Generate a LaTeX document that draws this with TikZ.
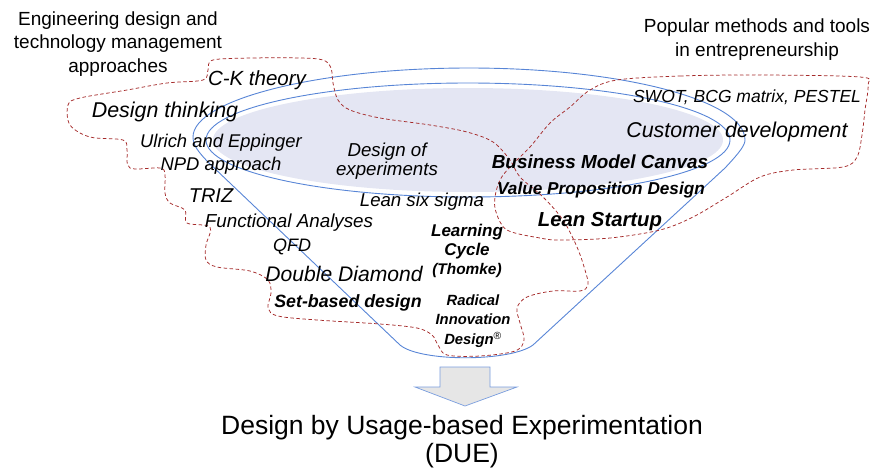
\documentclass[tikz,border=0pt]{standalone}
\usepackage{fontspec}
\setmainfont{Liberation Sans}
\usetikzlibrary{positioning}
\definecolor{funnelblue}{RGB}{88,133,214}
\definecolor{funnelfill}{RGB}{228,230,243}
\definecolor{groupred}{RGB}{165,42,42}
\definecolor{arrowgray}{RGB}{230,230,230}
\begin{document}
\begin{tikzpicture}[x=1pt,y=-1pt,
	lbl/.style={inner sep=0pt, align=center},
	it/.style={lbl, font=\itshape\fontsize{#1}{#1}\selectfont},
	bi/.style={lbl, font=\bfseries\itshape\fontsize{#1}{#1}\selectfont},
	funnel/.style={draw=funnelblue, line width=0.9pt},
	groupline/.style={draw=groupred, dash pattern=on 3.5pt off 2.5pt, line width=0.75pt}]
	\useasboundingbox (0,0) rectangle (883,475);
	% funnel
	\fill[funnelfill] (468,140) ellipse [x radius=255, y radius=52];
	\draw[funnel] (468,140) ellipse [x radius=262, y radius=57];
	\draw[funnel] (745,140) .. controls (745,100) and (621,68) .. (469,68) .. controls (317,68) and (193,100) .. (193,137) .. controls (193,145) and (198,152) .. (210,164) -- (400,345) .. controls (420,362) and (510,362) .. (533,345) -- (725,168) .. controls (740,152) and (745,145) .. (745,140);
	%
	\draw[groupline] plot[smooth cycle, tension=0.55] coordinates {(213,60) (253,58) (300,58) (323,60) (331,68) (333,83) (338,100) (350,110) (380,118) (430,125) (467,132) (493,142) (510,160) (520,177) (543,197) (563,220) (577,247) (585,270) (588,285) (580,291) (553,291) (527,297) (517,308) (520,323) (524,340) (515,351) (480,356) (447,355) (438,345) (432,335) (417,328) (380,324) (317,320) (278,316) (268,308) (271,293) (268,280) (250,271) (217,267) (206,260) (206,245) (210,227) (187,223) (185,210) (170,203) (165,193) (165,175) (160,168) (130,168) (127,150) (123,140) (90,137) (70,125) (68,105) (80,98) (127,90) (167,83) (203,80) (208,70)};
	\draw[groupline] plot[smooth cycle, tension=0.55] coordinates {(617,80) (680,76) (760,75) (860,77) (868,85) (865,110) (862,135) (857,157) (843,167) (793,170) (760,177) (727,197) (693,217) (660,230) (610,238) (560,240) (540,238) (507,230) (496,212) (495,197) (500,180) (510,167) (530,147) (550,123) (570,107) (590,90)};
	%
	\node[lbl, font=\fontsize{19}{23.5}\selectfont] (eng_title) at (118,44) {Engineering design and\\technology management\\approaches};
	\node[lbl, font=\fontsize{19}{23.5}\selectfont] (entr_title) at (757,39.5) {Popular methods and tools\\in entrepreneurship};
	%
	\node[it=20.5] (ck_theory) at (257,80) {C-K theory};
	\node[it=21.4] (design_thinking) at (165,112) {Design thinking};
	\node[lbl, font=\itshape\fontsize{18.4}{23}\selectfont] (npd) at (221,154.5) {Ulrich and Eppinger\\NPD approach};
	\node[it=20] (triz) at (211,196) {TRIZ};
	\node[it=18.8] (functional) at (289,223) {Functional Analyses};
	\node[it=18] (qfd) at (292,247) {QFD};
	\node[it=21.1] (double_diamond) at (344,274) {Double Diamond};
	\node[bi=17.8] (set_based) at (348,303) {Set-based design};
	\node[lbl, font=\itshape\fontsize{18.7}{19}\selectfont] (doe) at (387,161) {Design of\\experiments};
	\node[it=18.6] (six_sigma) at (422,202) {Lean six sigma};
	\node[lbl, font=\bfseries\itshape\fontsize{17}{19}\selectfont] (learning_cycle) at (467,251) {Learning\\Cycle\\{\fontsize{15.4}{17}\selectfont (Thomke)}};
	\node[lbl, font=\bfseries\itshape\fontsize{14.8}{19.5}\selectfont] (rid) at (473,321) {Radical\\Innovation\\Design\textsuperscript{\normalfont ®}};
	%
	\node[bi=18.9] (bmc) at (600,162) {Business Model Canvas};
	\node[bi=17.2] (vpd) at (601,190) {Value Proposition Design};
	\node[bi=20.3] (lean_startup) at (600,222) {Lean Startup};
	\node[it=17.5] (swot) at (747,97) {SWOT, BCG matrix, PESTEL};
	\node[it=21.4] (customer_dev) at (737,132) {Customer development};
	%
	\draw[draw=funnelblue!80, fill=arrowgray, line width=0.7pt] (440,367) -- (490,367) -- (490,387) -- (517,387) -- (465,406) -- (415,387) -- (440,387) -- cycle;
	\node[lbl, font=\fontsize{26.5}{28}\selectfont] (due) at (462,442) {Design by Usage-based Experimentation\\(DUE)};
\end{tikzpicture}
\end{document}
